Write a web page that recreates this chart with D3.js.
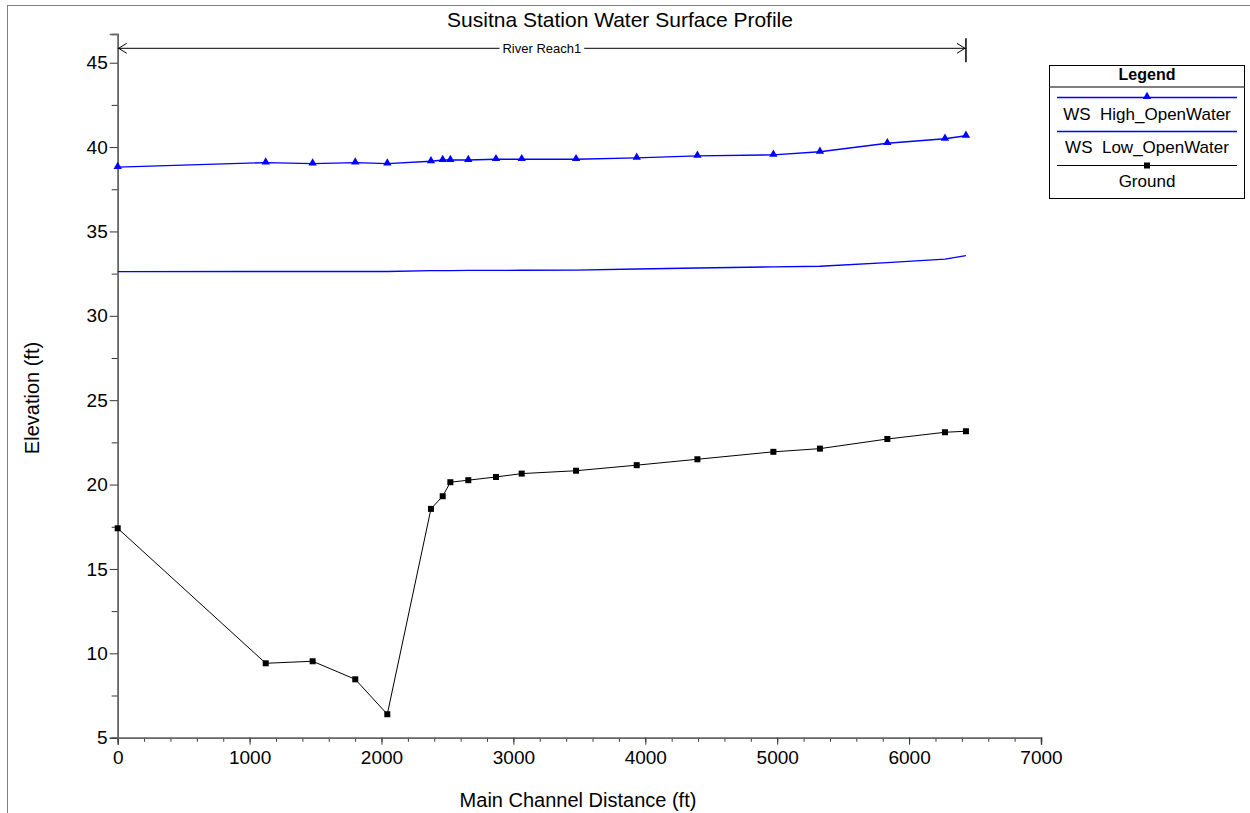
<!DOCTYPE html>
<html>
<head>
<meta charset="utf-8">
<script src="https://cdn.jsdelivr.net/npm/d3@7"></script>
<style>
  body { margin: 0; background: #fff; }
  text { font-family: "Liberation Sans", Arial, sans-serif; }
</style>
</head>
<body>
<div id="chart"></div>
<script>
// stations along main channel (ft)
var stations = [0, 1122, 1478, 1801, 2044, 2375, 2464, 2522, 2658, 2868, 3063, 3475, 3935, 4395, 4971, 5324, 5835, 6272, 6431];
var wsHigh = [38.81, 39.08, 39.02, 39.08, 39.02, 39.16, 39.23, 39.23, 39.23, 39.28, 39.28, 39.28, 39.36, 39.48, 39.54, 39.72, 40.23, 40.49, 40.67];
var wsLow = [32.62, 32.63, 32.63, 32.63, 32.63, 32.68, 32.68, 32.68, 32.69, 32.69, 32.70, 32.71, 32.77, 32.83, 32.90, 32.94, 33.15, 33.36, 33.57];
var ground = [17.41, 9.41, 9.53, 8.46, 6.39, 18.56, 19.31, 20.14, 20.26, 20.45, 20.65, 20.82, 21.15, 21.50, 21.94, 22.13, 22.70, 23.10, 23.16];
var xTicks = [0, 1000, 2000, 3000, 4000, 5000, 6000, 7000];
var yTicks = [5, 10, 15, 20, 25, 30, 35, 40, 45];
var legendNames = ["WS  High_OpenWater", "WS  Low_OpenWater", "Ground"];

var svgWidth = 1250;
var svgHeight = 813;

var margin = {
    top: 34,
    left: 117.7,
    right: 209,
    bottom: 75.3
};

var width = svgWidth - margin.left - margin.right;
var height = svgHeight - margin.top - margin.bottom;

var svg = d3.select("#chart").append("svg").attr("width", svgWidth).attr("height", svgHeight);

// outer frame
svg.append("rect")
    .attr("x", 7.5).attr("y", 5.5)
    .attr("width", 1260).attr("height", 830)
    .attr("fill", "none").attr("stroke", "#808080");

var chartGroup = svg.append("g")
    .attr("transform", `translate(${margin.left}, ${margin.top})`);

var xLinearScale = d3.scaleLinear().domain([0, 7000]).range([0, width]);
var yLinearScale = d3.scaleLinear().domain([5, 46.7]).range([height, 0]);

// minor ticks
var bottomMinor = d3.axisBottom(xLinearScale).tickValues(d3.range(0, 7001, 200)).tickSize(4).tickFormat("");
var leftMinor = d3.axisLeft(yLinearScale).tickValues(d3.range(7.5, 46, 5)).tickSize(6).tickFormat("");
chartGroup.append("g").attr("transform", `translate(0, ${height})`).call(bottomMinor);
chartGroup.append("g").call(leftMinor);

var bottomAxis = d3.axisBottom(xLinearScale).tickValues(xTicks).tickSize(7).tickPadding(6).tickFormat(d3.format("d"));
var leftAxis = d3.axisLeft(yLinearScale).tickValues(yTicks).tickSize(8).tickPadding(2).tickFormat(d3.format("d"));

var xAxis = chartGroup.append("g").attr("transform", `translate(0, ${height})`).call(bottomAxis);
var yAxis = chartGroup.append("g").call(leftAxis);

chartGroup.selectAll(".domain").attr("stroke", "#666").attr("stroke-width", 1.5);
chartGroup.selectAll(".tick line").attr("stroke", "#333");
chartGroup.selectAll(".tick text").attr("font-size", 19).attr("fill", "#000")
    .style("font-family", "'Liberation Sans', Arial, sans-serif");

// title and axis labels
svg.append("text").attr("x", 620).attr("y", 27).attr("text-anchor", "middle")
    .attr("font-size", 21).text("Susitna Station Water Surface Profile");
svg.append("text").attr("x", 578).attr("y", 807).attr("text-anchor", "middle")
    .attr("font-size", 20).text("Main Channel Distance (ft)");
svg.append("text").attr("transform", "translate(39, 398) rotate(-90)").attr("text-anchor", "middle")
    .attr("font-size", 20).text("Elevation (ft)");

// reach arrow
var reachY = 48.3 - margin.top;
var rx0 = xLinearScale(0), rx1 = xLinearScale(stations[stations.length - 1]);
chartGroup.append("line").attr("x1", rx0).attr("x2", rx1).attr("y1", reachY).attr("y2", reachY)
    .attr("stroke", "#000").attr("stroke-width", 1);
chartGroup.append("path").attr("d", `M${rx0 + 9},${reachY - 5}L${rx0 + 1},${reachY}L${rx0 + 9},${reachY + 5}`)
    .attr("fill", "none").attr("stroke", "#000");
chartGroup.append("path").attr("d", `M${rx1 - 9},${reachY - 5}L${rx1 - 1},${reachY}L${rx1 - 9},${reachY + 5}`)
    .attr("fill", "none").attr("stroke", "#000");
chartGroup.append("line").attr("x1", rx1).attr("x2", rx1).attr("y1", reachY - 10).attr("y2", reachY + 14)
    .attr("stroke", "#000").attr("stroke-width", 1.5);
var labelBg = chartGroup.append("rect").attr("fill", "#fff");
var reachLabel = chartGroup.append("text").attr("x", (rx0 + rx1) / 2).attr("y", reachY + 4.5)
    .attr("text-anchor", "middle").attr("font-size", 13).text("River Reach1");
var bb = reachLabel.node().getBBox();
labelBg.attr("x", bb.x - 3).attr("y", bb.y).attr("width", bb.width + 6).attr("height", bb.height);

// series
var line = d3.line().x(d => xLinearScale(d[0])).y(d => yLinearScale(d[1]));
var highData = stations.map((s, i) => [s, wsHigh[i]]);
var lowData = stations.map((s, i) => [s, wsLow[i]]);
var groundData = stations.map((s, i) => [s, ground[i]]);

chartGroup.append("path").datum(lowData).attr("d", line)
    .attr("fill", "none").attr("stroke", "#0000ff").attr("stroke-width", 1.4);
chartGroup.append("path").datum(highData).attr("d", line)
    .attr("fill", "none").attr("stroke", "#0000ff").attr("stroke-width", 1.4);
chartGroup.append("path").datum(groundData).attr("d", line)
    .attr("fill", "none").attr("stroke", "#000").attr("stroke-width", 1);

var tri = d3.symbol().type(d3.symbolTriangle).size(30);
chartGroup.selectAll(".hi").data(highData).enter().append("path")
    .attr("transform", d => `translate(${xLinearScale(d[0])}, ${yLinearScale(d[1]) - 0.5})`)
    .attr("d", tri).attr("fill", "#0000ff");
chartGroup.selectAll(".gr").data(groundData).enter().append("rect")
    .attr("x", d => xLinearScale(d[0]) - 3).attr("y", d => yLinearScale(d[1]) - 3)
    .attr("width", 6).attr("height", 6).attr("fill", "#000");

// legend
var lg = svg.append("g");
lg.append("rect").attr("x", 1049.5).attr("y", 65.5).attr("width", 195).attr("height", 133)
    .attr("fill", "#fff").attr("stroke", "#000");
lg.append("text").attr("x", 1147).attr("y", 80).attr("text-anchor", "middle")
    .attr("font-size", 16).attr("font-weight", "bold").text("Legend");
lg.append("line").attr("x1", 1049.5).attr("x2", 1244.5).attr("y1", 87).attr("y2", 87)
    .attr("stroke", "#555").attr("stroke-width", 1.5);
var legY = [97.5, 131.5, 165.5];
var legText = [120, 152.5, 187];
var legColors = ["#0000ff", "#0000ff", "#000"];
legendNames.forEach(function(name, i) {
    lg.append("line").attr("x1", 1057).attr("x2", 1237).attr("y1", legY[i]).attr("y2", legY[i])
        .attr("stroke", legColors[i]).attr("stroke-width", i < 2 ? 1.3 : 1);
    lg.append("text").attr("x", 1147).attr("y", legText[i]).attr("text-anchor", "middle")
        .attr("font-size", 17).style("white-space", "pre").text(name);
});
lg.append("path").attr("transform", `translate(1147, ${legY[0] - 1})`).attr("d", tri).attr("fill", "#0000ff");
lg.append("rect").attr("x", 1144).attr("y", legY[2] - 3).attr("width", 6).attr("height", 6).attr("fill", "#000");
</script>
</body>
</html>
